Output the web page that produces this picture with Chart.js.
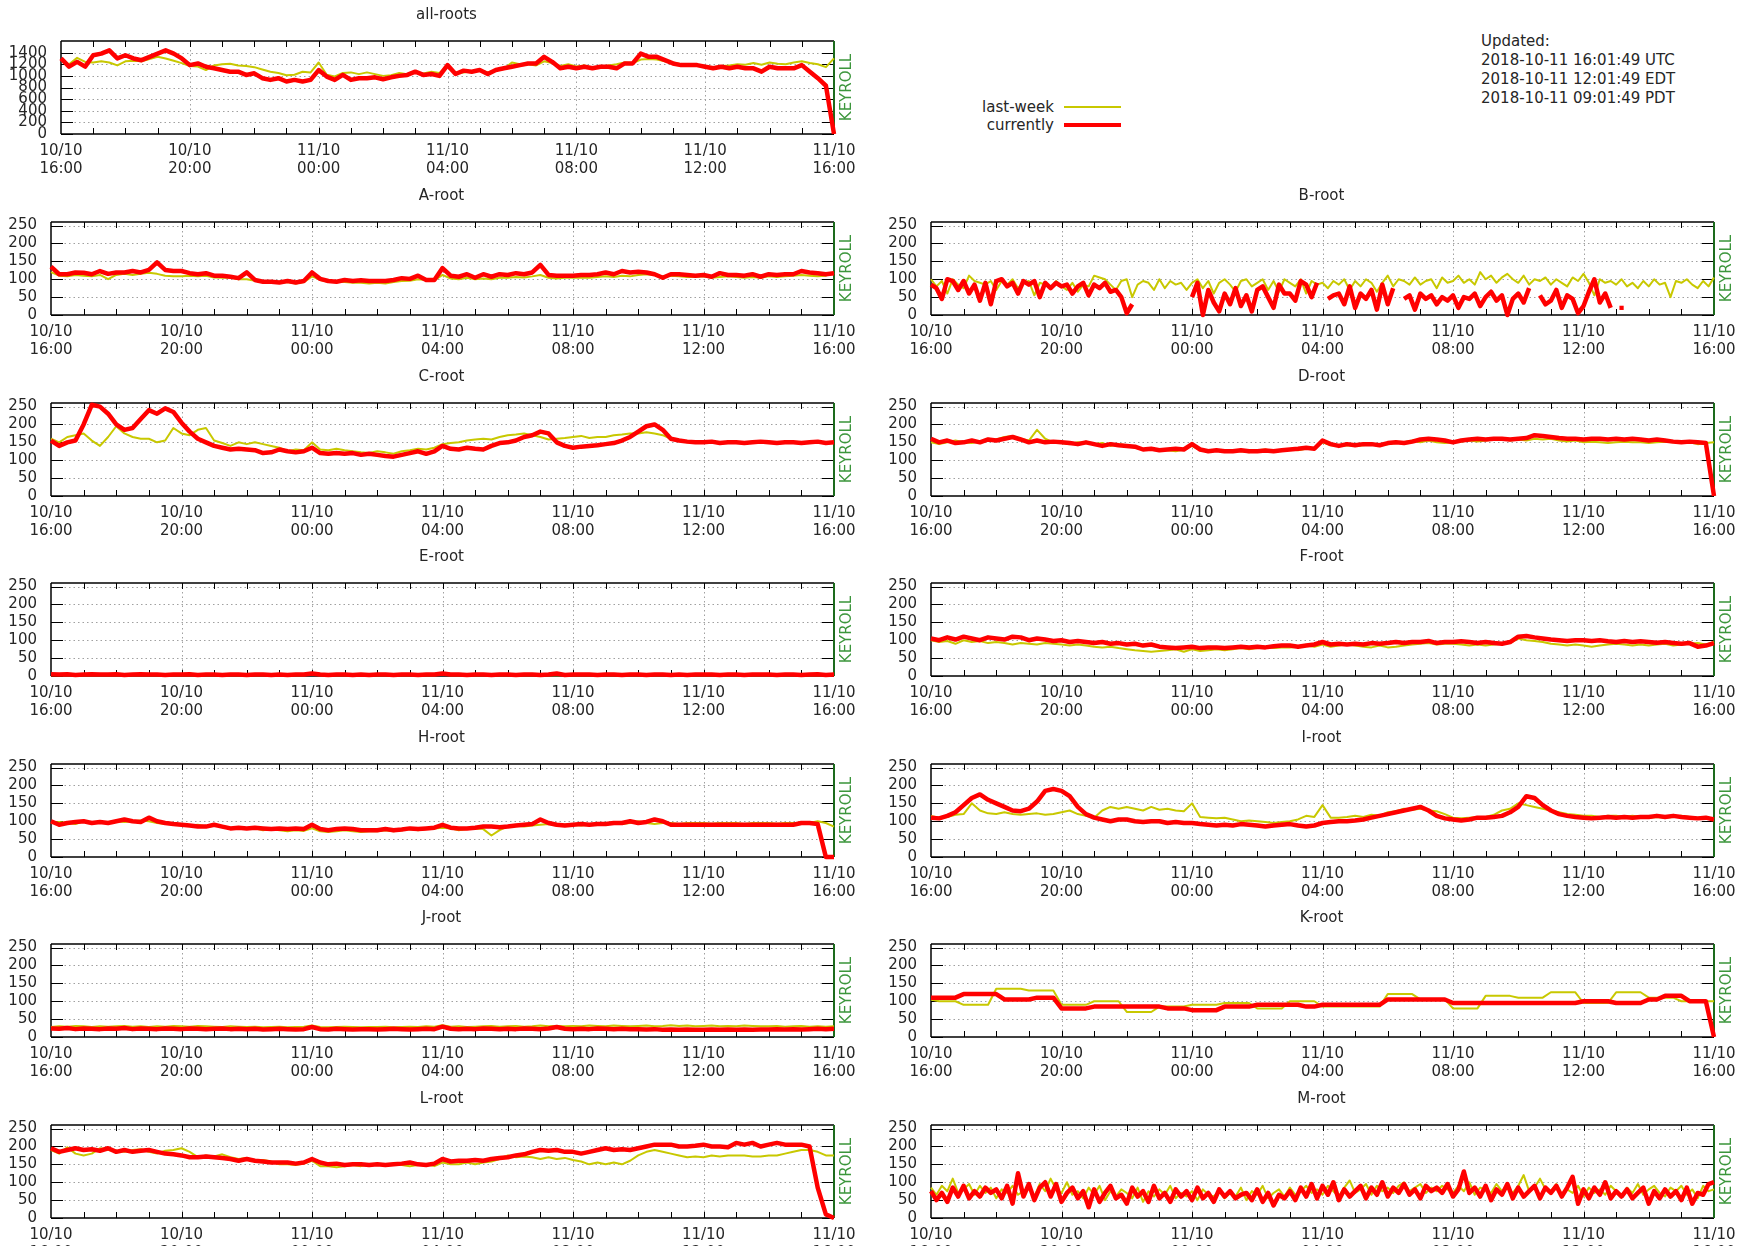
<!DOCTYPE html>
<html>
<head>
<meta charset="utf-8">
<title>Root server query rates</title>
<script src="https://cdn.jsdelivr.net/npm/chart.js@4.4.1/dist/chart.umd.min.js"></script>
<style>
  html, body { margin: 0; padding: 0; background: #fff; }
  body { position: relative; width: 1743px; height: 1246px; overflow: hidden;
         font-family: 'DejaVu Sans', sans-serif; font-size: 15px; color: #262626; }
  canvas { position: absolute; }
  .ttl { position: absolute; transform: translate(-50%, -50%); white-space: nowrap; }
  .upd { position: absolute; left: 1481px; top: 32px; line-height: 19px; white-space: nowrap; }
  .lg { position: absolute; white-space: nowrap; transform: translateY(-50%); text-align: right; }
  .lgline { position: absolute; }
</style>
</head>
<body>
<script>
// ---- time axis (hours since 10/10 16:00) ----
const SPAN_HOURS = 24;
const xTickHours = [0, 4, 8, 12, 16, 20, 24];
const xTickDates = ['10/10', '10/10', '11/10', '11/10', '11/10', '11/10', '11/10'];
const xTickTimes = ['16:00', '20:00', '00:00', '04:00', '08:00', '12:00', '16:00'];
const yTicksAll = [0, 200, 400, 600, 800, 1000, 1200, 1400];
const yTicksRoot = [0, 50, 100, 150, 200, 250];
const seriesNames = ['last-week', 'currently'];
const markerLabel = 'KEYROLL';
const updatedLines = ['Updated:', '2018-10-11 16:01:49 UTC', '2018-10-11 12:01:49 EDT', '2018-10-11 09:01:49 PDT'];

// ---- 15-minute samples (97 per day) unless noted ----
const allRootsNow = [
  1300, 1160, 1240, 1160, 1355, 1383, 1440, 1300,
  1355, 1300, 1270, 1327, 1383, 1440, 1383, 1300,
  1185, 1214, 1157, 1130, 1100, 1072, 1072, 1016,
  1044, 960, 931, 960, 903, 931, 903, 931,
  1100, 988, 931, 1016, 931, 960, 960, 975,
  943, 975, 1000, 1016, 1072, 1016, 1033, 1000,
  1185, 1033, 1090, 1072, 1100, 1033, 1100, 1130,
  1157, 1185, 1214, 1214, 1327, 1242, 1130, 1157,
  1130, 1157, 1130, 1157, 1157, 1130, 1214, 1214,
  1383, 1327, 1327, 1270, 1214, 1185, 1185, 1185,
  1157, 1130, 1157, 1130, 1157, 1130, 1130, 1072,
  1157, 1130, 1130, 1130, 1185, 1072, 960, 830,
  0];
const allRootsLastWeek = [
  1280, 1200, 1310, 1240, 1230, 1250, 1230, 1180,
  1250, 1260, 1250, 1290, 1330, 1300, 1260, 1220,
  1170, 1160, 1100, 1180, 1200, 1210, 1180, 1170,
  1150, 1110, 1070, 1050, 1010, 1020, 1070, 1060,
  1230, 1020, 990, 1050, 1060, 1030, 1060, 1030,
  1000, 1010, 1050, 1030, 1060, 1040, 1070, 1050,
  1180, 1060, 1060, 1080, 1100, 1060, 1100, 1120,
  1230, 1200, 1200, 1180, 1250, 1220, 1170, 1200,
  1160, 1180, 1140, 1150, 1180, 1200, 1230, 1220,
  1280, 1290, 1280, 1250, 1230, 1200, 1180, 1170,
  1170, 1150, 1170, 1180, 1200, 1190, 1220, 1190,
  1230, 1210, 1200, 1230, 1250, 1220, 1200, 1150,
  1300];

const aRootNow = [
  135, 114, 114, 119, 118, 114, 123, 115,
  119, 119, 123, 119, 126, 147, 126, 123,
  123, 117, 114, 117, 110, 110, 107, 103,
  119, 98, 93, 93, 91, 95, 91, 95,
  119, 101, 95, 93, 98, 95, 97, 95,
  95, 95, 98, 103, 101, 110, 98, 98,
  131, 110, 107, 114, 104, 114, 107, 114,
  112, 117, 114, 119, 140, 112, 110, 110,
  110, 112, 112, 114, 119, 114, 123, 119,
  121, 119, 114, 104, 114, 114, 112, 110,
  112, 107, 117, 112, 112, 110, 114, 107,
  114, 112, 114, 114, 123, 119, 117, 114,
  117];
const aRootLastWeek = [
  120, 110, 108, 112, 110, 108, 112, 100,
  112, 115, 112, 115, 118, 115, 110, 108,
  108, 110, 108, 110, 105, 104, 105, 100,
  100, 96, 92, 92, 90, 92, 88, 92,
  108, 98, 93, 92, 92, 90, 90, 88,
  90, 88, 92, 95, 96, 100, 98, 97,
  112, 102, 100, 104, 100, 102, 100, 104,
  104, 106, 105, 108, 112, 104, 102, 104,
  105, 104, 104, 106, 108, 106, 110, 108,
  112, 114, 112, 108, 110, 108, 106, 106,
  108, 104, 106, 108, 106, 104, 106, 104,
  108, 106, 108, 110, 112, 110, 108, 110,
  118];

// B-root: 10-minute samples (145), gaps where no data arrived
const bRootNow = [
  85, 75, 45, 100, 95, 70,
  95, 60, 85, 40, 90, 30,
  95, 100, 80, 90, 60, 95,
  85, 95, 50, 90, 75, 90,
  80, 85, 60, 80, 90, 55,
  85, 75, 90, 65, 70, 50,
  5, 30, null, null, null, null,
  null, null, null, null, null, null,
  50, 90, 0, 70, 35, 10,
  60, 30, 75, 25, 55, 10,
  70, 80, 50, 20, 85, 60,
  60, 40, 95, 85, 50, 90,
  null, 45, 55, 60, 30, 80,
  20, 60, 45, 70, 15, 85,
  30, 75, null, 45, 55, 15,
  60, 45, 55, 30, 50, 40,
  55, 20, 50, 45, 60, 25,
  50, 65, 40, 55, 0, 45,
  60, 35, 75, null, 55, 30,
  40, 70, 20, 55, 45, 5,
  25, 65, 100, 35, 60, 20,
  null, 20, null, null, null, null,
  null, null, null, null, null, null,
  null, null, null, null, null, null,
  null];
const bRootLastWeek = [
  100, 80, 95, 60, 100, 85,
  75, 110, 95, 90, 85, 95,
  70, 95, 85, 100, 75, 90,
  95, 55, 90, 85, 75, 95,
  80, 70, 90, 65, 85, 80,
  110, 105, 100, 85, 70, 95,
  100, 50, 85, 95, 90, 70,
  100, 75, 95, 85, 90, 70,
  90, 100, 75, 95, 60, 90,
  100, 85, 65, 95, 100, 80,
  90, 100, 70, 95, 65, 100,
  90, 80, 100, 60, 95, 85,
  90, 75, 95, 85, 100, 70,
  95, 80, 100, 90, 65, 90,
  110, 80, 100, 95, 85, 105,
  85, 95, 100, 75, 105, 90,
  95, 110, 90, 100, 85, 120,
  100, 110, 90, 105, 115, 100,
  90, 110, 85, 100, 95, 105,
  85, 100, 90, 80, 105, 95,
  115, 90, 55, 100, 90, 95,
  85, 100, 80, 90, 75, 95,
  80, 100, 85, 90, 50, 95,
  90, 100, 85, 75, 95, 80,
  105];

const cRootNow = [
  155, 140, 150, 155, 200, 255, 250, 230,
  200, 185, 190, 215, 240, 230, 245, 235,
  205, 180, 160, 150, 140, 135, 130, 132,
  130, 128, 120, 122, 130, 125, 122, 125,
  135, 120, 118, 120, 118, 120, 115, 118,
  115, 112, 110, 115, 120, 125, 118, 125,
  140, 132, 130, 135, 132, 130, 140, 148,
  150, 155, 165, 170, 180, 175, 150, 140,
  135, 138, 140, 142, 145, 148, 155, 165,
  180, 195, 200, 185, 160, 155, 152, 150,
  150, 152, 148, 150, 150, 148, 150, 152,
  150, 148, 150, 150, 148, 150, 152, 148,
  150];
const cRootLastWeek = [
  160, 150, 165, 170, 175, 155, 140, 165,
  195, 175, 165, 160, 160, 150, 155, 190,
  175, 170, 185, 190, 155, 148, 140, 150,
  145, 150, 145, 140, 135, 125, 130, 128,
  150, 130, 128, 132, 128, 125, 122, 120,
  125, 122, 118, 125, 128, 132, 130, 135,
  145, 148, 150, 155, 158, 160, 158, 165,
  170, 172, 175, 170, 165, 158, 160, 162,
  165, 168, 162, 165, 165, 170, 172, 175,
  175, 178, 175, 170, 160, 155, 150, 150,
  150, 148, 150, 148, 150, 148, 150, 150,
  148, 150, 150, 148, 150, 150, 148, 150,
  150];

const dRootNow = [
  160, 150, 155, 148, 150, 155, 150, 158,
  155, 160, 165, 158, 150, 155, 150, 152,
  150, 148, 145, 150, 145, 140, 145, 142,
  140, 138, 130, 132, 128, 130, 132, 130,
  145, 130, 125, 128, 125, 125, 128, 125,
  125, 127, 125, 128, 130, 132, 135, 132,
  155, 145, 140, 145, 142, 145, 145, 142,
  148, 150, 148, 152, 158, 160, 158, 155,
  150, 155, 158, 160, 158, 160, 160, 158,
  160, 162, 170, 168, 165, 162, 160, 160,
  158, 160, 160, 158, 160, 158, 160, 158,
  155, 158, 155, 152, 150, 152, 150, 148,
  0];
const dRootLastWeek = [
  150, 145, 150, 155, 150, 148, 152, 160,
  158, 165, 168, 160, 155, 185, 160, 150,
  148, 145, 150, 148, 145, 148, 140, 145,
  142, 135, 130, 132, 130, 128, 125, 130,
  140, 128, 125, 128, 128, 125, 125, 122,
  128, 130, 125, 128, 130, 128, 132, 135,
  150, 142, 140, 142, 140, 142, 145, 140,
  145, 148, 150, 155, 150, 155, 150, 148,
  150, 152, 155, 152, 155, 158, 160, 155,
  158, 155, 160, 158, 160, 155, 152, 155,
  150, 152, 150, 148, 150, 152, 150, 150,
  148, 150, 152, 150, 148, 150, 145, 148,
  150];

const eRootNow = [
  5, 4, 5, 3, 4, 5, 4, 4, 5, 3, 4, 5, 4, 4, 3, 4,
  4, 5, 3, 4, 4, 3, 4, 4, 3, 4, 4, 3, 4, 3, 4, 4,
  7, 4, 3, 4, 4, 3, 4, 3, 4, 4, 3, 4, 4, 3, 4, 4,
  7, 4, 4, 3, 4, 4, 3, 4, 4, 3, 4, 4, 3, 4, 7, 3,
  4, 4, 4, 3, 4, 4, 3, 4, 4, 3, 4, 4, 3, 4, 3, 4,
  4, 4, 3, 4, 4, 3, 4, 4, 4, 3, 4, 4, 3, 4, 5, 3,
  4];
const eRootLastWeek = [
  2, 2, 3, 2, 2, 2, 3, 2, 2, 2, 2, 3, 2, 2, 2, 2,
  3, 2, 2, 2, 2, 2, 3, 2, 2, 2, 2, 2, 2, 3, 2, 2,
  4, 2, 2, 2, 3, 2, 2, 2, 2, 2, 3, 2, 2, 2, 2, 2,
  4, 2, 2, 3, 2, 2, 2, 2, 2, 3, 2, 2, 2, 2, 3, 2,
  2, 2, 2, 2, 3, 2, 2, 2, 2, 2, 2, 3, 2, 2, 2, 2,
  2, 3, 2, 2, 2, 2, 2, 3, 2, 2, 2, 2, 3, 2, 2, 2,
  2];

const fRootNow = [
  105, 100, 108, 102, 110, 105, 100, 108,
  105, 102, 110, 108, 100, 105, 102, 98,
  100, 95, 98, 95, 92, 95, 90, 92,
  88, 90, 85, 88, 82, 80, 78, 80,
  82, 78, 80, 80, 78, 80, 82, 80,
  82, 80, 83, 85, 85, 82, 85, 88,
  95, 88, 90, 88, 90, 88, 92, 90,
  92, 95, 92, 95, 95, 98, 92, 95,
  95, 97, 95, 92, 95, 92, 90, 95,
  110, 112, 108, 105, 102, 100, 98, 100,
  100, 98, 100, 97, 95, 98, 95, 97,
  95, 93, 95, 92, 90, 92, 82, 85,
  92];
const fRootLastWeek = [
  100, 95, 98, 90, 100, 95, 98, 92,
  95, 92, 88, 92, 90, 88, 92, 90,
  88, 85, 88, 85, 82, 80, 82, 78,
  75, 72, 70, 68, 70, 72, 75, 68,
  75, 70, 72, 75, 72, 75, 78, 75,
  78, 80, 78, 80, 80, 82, 85, 82,
  88, 82, 85, 88, 85, 82, 80, 85,
  80, 82, 85, 88, 90, 92, 88, 90,
  90, 88, 85, 88, 85, 88, 90, 92,
  105, 100, 98, 95, 90, 88, 85, 88,
  85, 82, 85, 88, 90, 88, 85, 88,
  85, 88, 90, 85, 88, 90, 92, 88,
  95];

const hRootNow = [
  100, 90, 95, 98, 100, 95, 98, 95,
  100, 105, 100, 98, 110, 100, 95, 92,
  90, 88, 85, 85, 90, 85, 80, 82,
  80, 82, 80, 78, 80, 78, 80, 78,
  90, 78, 75, 78, 80, 78, 75, 75,
  75, 78, 75, 77, 80, 78, 80, 82,
  90, 82, 80, 80, 82, 85, 85, 83,
  85, 88, 90, 92, 105, 95, 90, 88,
  90, 92, 90, 92, 92, 95, 95, 100,
  95, 98, 105, 100, 90, 90, 90, 90,
  90, 90, 90, 90, 90, 90, 90, 90,
  90, 90, 90, 90, 95, 95, 92, 0,
  0];
const hRootLastWeek = [
  95, 98, 95, 92, 100, 95, 98, 95,
  100, 98, 100, 102, 100, 95, 92, 95,
  90, 88, 90, 85, 88, 85, 82, 80,
  78, 80, 75, 78, 75, 72, 75, 73,
  80, 72, 70, 72, 75, 72, 70, 72,
  72, 75, 72, 75, 78, 75, 78, 80,
  82, 80, 75, 78, 80, 78, 60, 75,
  85, 88, 85, 88, 90, 92, 88, 90,
  90, 88, 90, 92, 92, 95, 92, 95,
  100, 95, 92, 95, 95, 92, 95, 95,
  95, 93, 95, 95, 95, 92, 95, 95,
  95, 93, 95, 95, 92, 95, 100, 95,
  85];

const iRootNow = [
  110, 108, 115, 125, 145, 165, 175, 160,
  150, 140, 130, 128, 135, 155, 185, 190,
  185, 170, 140, 120, 110, 105, 100, 105,
  105, 100, 98, 100, 100, 95, 98, 95,
  95, 92, 90, 88, 90, 88, 92, 90,
  88, 85, 88, 90, 92, 88, 85, 88,
  95, 98, 100, 100, 102, 105, 110, 115,
  120, 125, 130, 135, 140, 130, 115, 108,
  105, 102, 105, 110, 110, 112, 115, 125,
  140, 170, 165, 145, 130, 120, 115, 112,
  110, 108, 110, 112, 110, 112, 110, 112,
  112, 115, 112, 115, 112, 110, 108, 110,
  105];
const iRootLastWeek = [
  115, 110, 112, 118, 120, 150, 130, 122,
  120, 125, 120, 118, 120, 122, 118, 120,
  125, 130, 120, 115, 110, 130, 140, 135,
  140, 135, 130, 140, 132, 135, 130, 128,
  150, 112, 110, 108, 110, 105, 100, 102,
  100, 98, 95, 98, 100, 105, 115, 112,
  145, 110, 110, 112, 115, 112, 118, 115,
  125, 128, 135, 132, 135, 130, 128, 120,
  110, 108, 110, 112, 112, 118, 130, 135,
  150, 145, 140, 135, 130, 125, 120, 118,
  115, 115, 112, 115, 115, 112, 115, 112,
  110, 112, 110, 112, 115, 112, 110, 108,
  105];

const jRootNow = [
  24, 23, 25, 22, 24, 23, 22, 24,
  23, 25, 22, 24, 23, 22, 24, 23,
  22, 24, 23, 22, 23, 24, 22, 23,
  22, 23, 21, 22, 23, 22, 21, 22,
  28, 22, 21, 23, 22, 21, 22, 22,
  21, 22, 23, 22, 21, 22, 23, 22,
  29, 23, 22, 23, 22, 24, 23, 22,
  23, 22, 24, 23, 22, 24, 28, 23,
  22, 23, 22, 24, 23, 22, 23, 22,
  22, 21, 22, 20, 21, 20, 21, 20,
  20, 21, 20, 21, 20, 21, 20, 21,
  21, 22, 21, 22, 21, 22, 23, 22,
  23];
const jRootLastWeek = [
  28, 30, 29, 31, 30, 28, 30, 29,
  30, 31, 29, 30, 28, 30, 29, 31,
  30, 29, 31, 30, 29, 28, 30, 29,
  28, 29, 27, 28, 29, 27, 28, 29,
  32, 28, 27, 28, 29, 28, 27, 28,
  28, 29, 27, 28, 29, 28, 30, 29,
  33, 29, 30, 28, 29, 30, 31, 29,
  30, 31, 29, 30, 32, 30, 31, 30,
  31, 30, 32, 31, 30, 32, 31, 30,
  31, 32, 30, 31, 33, 31, 32, 30,
  31, 32, 30, 31, 30, 32, 31, 30,
  30, 31, 29, 30, 31, 29, 30, 29,
  30];

const kRootNow = [
  110, 110, 110, 110, 120, 120, 120, 120,
  120, 105, 105, 105, 105, 110, 110, 110,
  80, 80, 80, 80, 85, 85, 85, 85,
  85, 85, 85, 85, 85, 80, 80, 80,
  75, 75, 75, 75, 85, 85, 85, 85,
  90, 90, 90, 90, 90, 90, 85, 85,
  90, 90, 90, 90, 90, 90, 90, 90,
  105, 105, 105, 105, 105, 105, 105, 105,
  95, 95, 95, 95, 95, 95, 95, 95,
  95, 95, 95, 95, 95, 95, 95, 95,
  100, 100, 100, 100, 95, 95, 95, 95,
  105, 105, 115, 115, 115, 100, 100, 100,
  0];
const kRootLastWeek = [
  105, 100, 100, 100, 90, 90, 90, 90,
  135, 135, 135, 135, 130, 130, 130, 130,
  90, 90, 90, 90, 100, 100, 100, 100,
  70, 70, 70, 70, 85, 85, 85, 85,
  90, 90, 90, 90, 95, 95, 95, 95,
  80, 80, 80, 80, 100, 100, 100, 100,
  85, 85, 85, 85, 85, 85, 85, 85,
  120, 120, 120, 120, 105, 105, 105, 105,
  80, 80, 80, 80, 115, 115, 115, 115,
  110, 110, 110, 110, 125, 125, 125, 125,
  95, 95, 95, 95, 125, 125, 125, 125,
  110, 110, 110, 110, 100, 100, 100, 100,
  100];

const lRootNow = [
  195, 185, 190, 195, 190, 192, 188, 195,
  185, 190, 185, 188, 190, 185, 180, 178,
  175, 170, 170, 172, 170, 168, 165, 160,
  165, 160, 158, 155, 155, 155, 152, 155,
  165, 155, 150, 152, 148, 150, 150, 148,
  150, 148, 150, 152, 155, 150, 148, 152,
  165, 158, 160, 160, 162, 160, 165, 168,
  170, 175, 178, 185, 190, 188, 190, 185,
  185, 180, 185, 190, 195, 190, 192, 190,
  195, 200, 205, 205, 205, 200, 200, 202,
  205, 200, 200, 198, 210, 205, 210, 200,
  205, 210, 205, 205, 205, 200, 85, 10,
  0];
const lRootLastWeek = [
  190, 180, 198, 180, 175, 180, 195, 190,
  188, 185, 190, 192, 185, 180, 188, 190,
  195, 185, 170, 175, 172, 178, 170, 165,
  168, 160, 162, 158, 150, 150, 148, 152,
  160, 145, 145, 142, 145, 148, 145, 150,
  148, 150, 150, 148, 145, 148, 150, 145,
  155, 150, 150, 155, 150, 155, 158, 165,
  175, 170, 172, 170, 165, 170, 165, 168,
  162, 158, 150, 155, 150, 155, 150, 160,
  175, 185, 190, 185, 180, 175, 170, 172,
  170, 175, 172, 175, 175, 175, 172, 172,
  175, 175, 180, 185, 190, 190, 185, 175,
  175];

// M-root: 10-minute samples (145)
const mRootNow = [
  75, 50, 70, 45, 85, 60,
  90, 55, 75, 60, 85, 70,
  80, 55, 90, 40, 125, 60,
  95, 50, 85, 100, 60, 95,
  45, 70, 85, 55, 75, 30,
  80, 45, 70, 90, 55, 65,
  40, 85, 60, 75, 45, 90,
  55, 70, 45, 80, 60, 75,
  50, 85, 55, 70, 45, 80,
  60, 75, 55, 65, 70, 50,
  80, 45, 70, 35, 65, 55,
  75, 50, 85, 60, 95, 55,
  90, 65, 100, 50, 80, 60,
  75, 90, 55, 85, 65, 100,
  60, 85, 70, 95, 65, 80,
  55, 90, 75, 85, 70, 95,
  60, 80, 130, 70, 85, 60,
  90, 50, 80, 65, 95, 55,
  85, 60, 75, 90, 55, 85,
  70, 90, 60, 85, 115, 40,
  80, 55, 85, 65, 100, 55,
  75, 60, 80, 55, 70, 85,
  40, 75, 55, 80, 60, 75,
  50, 85, 40, 70, 65, 95,
  100];
const mRootLastWeek = [
  85, 65, 90, 75, 110, 70,
  80, 95, 65, 90, 70, 85,
  55, 80, 70, 90, 65, 75,
  85, 60, 95, 75, 110, 80,
  70, 100, 65, 75, 55, 85,
  65, 90, 50, 75, 60, 80,
  70, 55, 85, 45, 75, 60,
  80, 65, 90, 55, 70, 60,
  75, 50, 80, 65, 60, 75,
  55, 70, 60, 85, 50, 75,
  65, 90, 55, 70, 80, 60,
  85, 65, 75, 90, 70, 80,
  65, 90, 75, 60, 85, 105,
  70, 80, 95, 65, 90, 75,
  85, 70, 90, 100, 75, 85,
  95, 70, 85, 75, 90, 80,
  70, 90, 75, 100, 65, 85,
  80, 70, 95, 75, 85, 70,
  90, 120, 75, 85, 110, 80,
  75, 95, 65, 80, 70, 90,
  60, 85, 70, 80, 65, 90,
  75, 60, 85, 70, 95, 65,
  80, 90, 70, 60, 85, 75,
  90, 65, 80, 55, 90, 75,
  80];

// ---- page layout ----
const FONT = "'DejaVu Sans', sans-serif";
const TEXT = '#262626';
const RED = '#ff0000';
const YELLOW = '#c8c800';
const KEY_GREEN = '#3c963c';
const KEY_LINE = '#1d6b1d';
const PLOT_H = 93;
const PAD_TOP = 30, PAD_RIGHT = 40, AXIS_BOTTOM = 50;
const LEFT_COL = { canvasLeft: 0, plotLeft: 51, plotRight: 834 };
const RIGHT_COL = { canvasLeft: 880, plotLeft: 931, plotRight: 1714 };
const ROW_TOPS = [222, 403, 583, 764, 944, 1125];

const panels = [
  { title: 'all-roots', now: allRootsNow, week: allRootsLastWeek, canvasLeft: 0, plotLeft: 61, plotRight: 834, top: 41, yMax: 1600, yTicks: yTicksAll },
  { title: 'A-root', now: aRootNow, week: aRootLastWeek, ...LEFT_COL, top: ROW_TOPS[0] },
  { title: 'B-root', now: bRootNow, week: bRootLastWeek, ...RIGHT_COL, top: ROW_TOPS[0] },
  { title: 'C-root', now: cRootNow, week: cRootLastWeek, ...LEFT_COL, top: ROW_TOPS[1] },
  { title: 'D-root', now: dRootNow, week: dRootLastWeek, ...RIGHT_COL, top: ROW_TOPS[1] },
  { title: 'E-root', now: eRootNow, week: eRootLastWeek, ...LEFT_COL, top: ROW_TOPS[2] },
  { title: 'F-root', now: fRootNow, week: fRootLastWeek, ...RIGHT_COL, top: ROW_TOPS[2] },
  { title: 'H-root', now: hRootNow, week: hRootLastWeek, ...LEFT_COL, top: ROW_TOPS[3] },
  { title: 'I-root', now: iRootNow, week: iRootLastWeek, ...RIGHT_COL, top: ROW_TOPS[3] },
  { title: 'J-root', now: jRootNow, week: jRootLastWeek, ...LEFT_COL, top: ROW_TOPS[4] },
  { title: 'K-root', now: kRootNow, week: kRootLastWeek, ...RIGHT_COL, top: ROW_TOPS[4] },
  { title: 'L-root', now: lRootNow, week: lRootLastWeek, ...LEFT_COL, top: ROW_TOPS[5] },
  { title: 'M-root', now: mRootNow, week: mRootLastWeek, ...RIGHT_COL, top: ROW_TOPS[5] }
];

function toPoints(values) {
  const n = values.length;
  return values.map((v, i) => ({ x: i * SPAN_HOURS / (n - 1), y: v }));
}

// gnuplot-style frame: dotted grid, inward ticks, border, key-roll marker
const framePlugin = {
  id: 'gnuFrame',
  beforeDatasetsDraw(chart, args, opts) {
    const { ctx, chartArea: a, scales: { x, y } } = chart;
    const line = (x1, y1, x2, y2) => { ctx.beginPath(); ctx.moveTo(x1, y1); ctx.lineTo(x2, y2); ctx.stroke(); };
    ctx.save();
    ctx.lineWidth = 1;
    ctx.strokeStyle = '#a0a0a0';
    ctx.setLineDash([1.5, 3]);
    opts.yTicks.forEach(v => {
      if (v <= 0) return;
      const py = Math.round(y.getPixelForValue(v)) + 0.5;
      line(a.left, py, a.right, py);
    });
    xTickHours.forEach(h => {
      if (h <= 0 || h >= SPAN_HOURS) return;
      const px = Math.round(x.getPixelForValue(h)) + 0.5;
      line(px, a.top, px, a.bottom);
    });
    ctx.setLineDash([]);
    ctx.strokeStyle = '#000';
    opts.yTicks.forEach(v => {
      const py = Math.round(y.getPixelForValue(v)) + 0.5;
      line(a.left, py, a.left + 12, py);
      line(a.right - 12, py, a.right, py);
    });
    for (let h = 1; h < SPAN_HOURS; h++) {
      const px = Math.round(x.getPixelForValue(h)) + 0.5;
      line(px, a.bottom, px, a.bottom - 6);
      line(px, a.top, px, a.top + 6);
    }
    ctx.lineWidth = 1.5;
    line(a.left, a.top, a.right, a.top);
    line(a.left, a.bottom, a.right, a.bottom);
    line(a.left, a.top, a.left, a.bottom);
    ctx.strokeStyle = KEY_LINE;
    ctx.lineWidth = 2;
    line(a.right, a.top, a.right, a.bottom);
    ctx.translate(a.right + 13, (a.top + a.bottom) / 2);
    ctx.rotate(-Math.PI / 2);
    ctx.fillStyle = KEY_GREEN;
    ctx.font = '15px ' + FONT;
    ctx.textAlign = 'center';
    ctx.textBaseline = 'middle';
    ctx.fillText(markerLabel, 0, 0);
    ctx.restore();
  }
};

function isolatedRadius(c) {
  const d = c.dataset.data, i = c.dataIndex;
  if (d[i].y == null) return 0;
  const prev = i > 0 ? d[i - 1].y : null;
  const next = i < d.length - 1 ? d[i + 1].y : null;
  return (prev == null && next == null) ? 3 : 0;
}

function makePanel(p) {
  const yTicks = p.yTicks || yTicksRoot;
  const yMax = p.yMax || 260;
  const axisW = p.plotLeft - p.canvasLeft;
  const cw = p.plotRight + PAD_RIGHT - p.canvasLeft;
  const ch = PAD_TOP + PLOT_H + AXIS_BOTTOM;
  const canvas = document.createElement('canvas');
  canvas.width = cw; canvas.height = ch;
  canvas.style.width = cw + 'px'; canvas.style.height = ch + 'px';
  canvas.style.left = p.canvasLeft + 'px';
  canvas.style.top = (p.top - PAD_TOP) + 'px';
  document.body.appendChild(canvas);

  const ttl = document.createElement('div');
  ttl.className = 'ttl';
  ttl.textContent = p.title;
  ttl.style.left = ((p.plotLeft + p.plotRight) / 2 - 1) + 'px';
  ttl.style.top = (p.top - 27.5) + 'px';
  document.body.appendChild(ttl);

  const yFont = { family: FONT, size: 15, lineHeight: '16px' };
  const xFont = { family: FONT, size: 15, lineHeight: '18px' };
  new Chart(canvas, {
    type: 'line',
    data: {
      datasets: [
        { label: seriesNames[1], data: toPoints(p.now), borderColor: RED, backgroundColor: RED,
          borderWidth: 4.5, order: 0, pointRadius: isolatedRadius, pointStyle: 'rect', pointBorderWidth: 0 },
        { label: seriesNames[0], data: toPoints(p.week), borderColor: YELLOW, backgroundColor: YELLOW,
          borderWidth: 2, order: 1, pointRadius: 0 }
      ]
    },
    options: {
      responsive: false, animation: false, devicePixelRatio: 1,
      parsing: false, normalized: true,
      layout: { padding: { left: 0, top: PAD_TOP, right: PAD_RIGHT, bottom: 0 } },
      elements: { line: { tension: 0, borderJoinStyle: 'round', capBezierPoints: false }, point: { hitRadius: 0 } },
      datasets: { line: { clip: false, spanGaps: false } },
      events: [],
      plugins: { legend: { display: false }, tooltip: { enabled: false }, gnuFrame: { yTicks } },
      scales: {
        x: {
          type: 'linear', min: 0, max: SPAN_HOURS,
          afterBuildTicks: ax => { ax.ticks = xTickHours.map(v => ({ value: v })); },
          afterFit: ax => { ax.height = AXIS_BOTTOM; },
          grid: { display: false, drawTicks: false, tickLength: 0 }, border: { display: false },
          ticks: { autoSkip: false, maxRotation: 0, minRotation: 0, padding: 8, color: TEXT, font: xFont,
                   callback: v => { const k = xTickHours.indexOf(v); return k < 0 ? '' : [xTickDates[k], xTickTimes[k]]; } }
        },
        y: {
          type: 'linear', min: 0, max: yMax,
          afterBuildTicks: ax => { ax.ticks = yTicks.map(v => ({ value: v })); },
          afterFit: ax => { ax.width = axisW; },
          grid: { display: false, drawTicks: false, tickLength: 0 }, border: { display: false },
          ticks: { autoSkip: false, padding: 14, color: TEXT, font: yFont, callback: v => String(v) }
        }
      }
    },
    plugins: [framePlugin]
  });
}

panels.forEach(makePanel);

// key for the two series
const keyRows = [
  { name: seriesNames[0], color: YELLOW, width: 2, y: 107 },
  { name: seriesNames[1], color: RED, width: 4, y: 125 }
];
keyRows.forEach(r => {
  const t = document.createElement('div');
  t.className = 'lg';
  t.textContent = r.name;
  t.style.right = (1743 - 1054) + 'px';
  t.style.top = r.y + 'px';
  document.body.appendChild(t);
  const l = document.createElement('div');
  l.className = 'lgline';
  l.style.left = '1064px';
  l.style.width = '57px';
  l.style.top = (r.y - r.width / 2) + 'px';
  l.style.height = r.width + 'px';
  l.style.background = r.color;
  document.body.appendChild(l);
});

const upd = document.createElement('div');
upd.className = 'upd';
upd.innerHTML = updatedLines.map(s => '<div>' + s + '</div>').join('');
document.body.appendChild(upd);
</script>
</body>
</html>
